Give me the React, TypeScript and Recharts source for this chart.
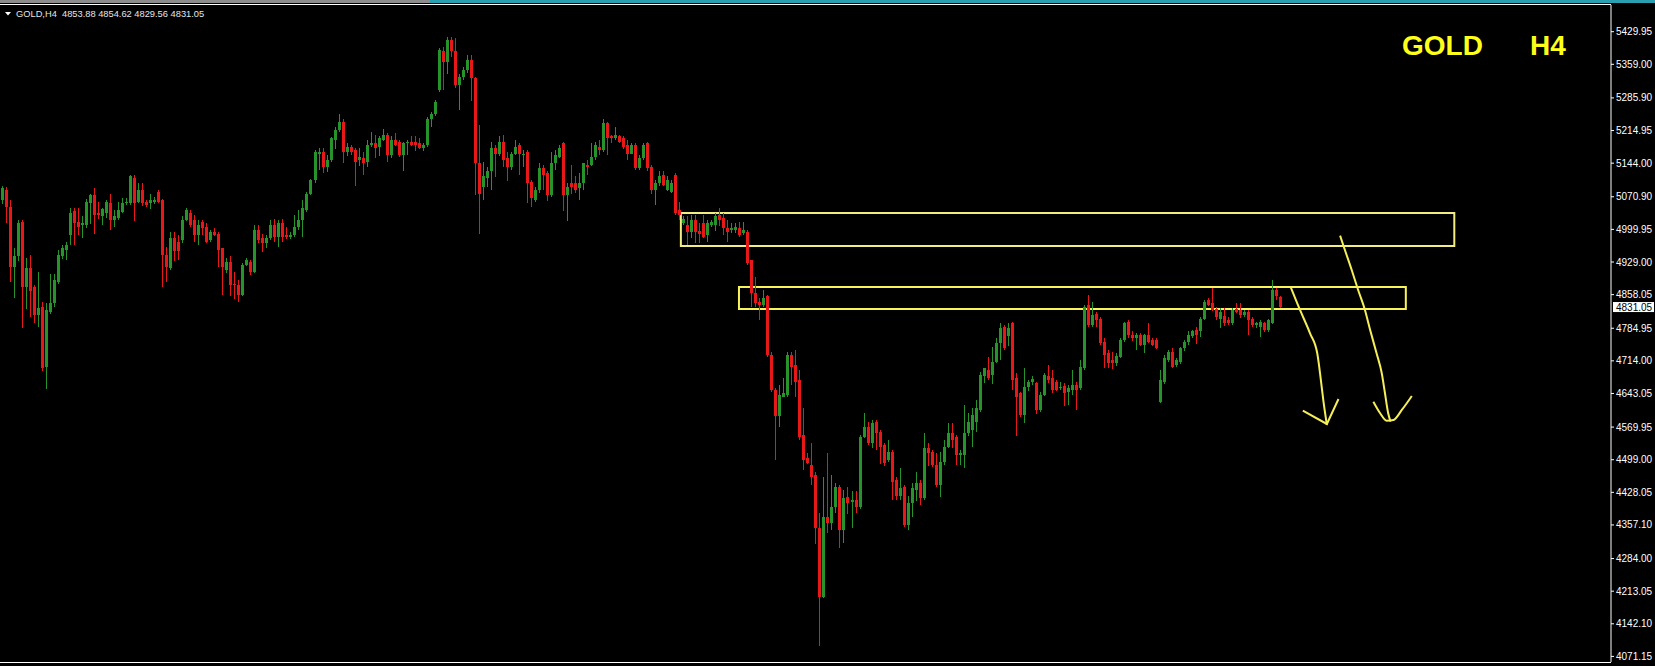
import { ComposedChart, Bar, Line, XAxis, YAxis, ReferenceArea, ReferenceLine } from 'recharts'

type Ohlc = [number, number, number, number]

// GOLD H4 candles: open, high, low, close
const BARS_A: Ohlc[] = [
  [5064, 5095, 5055, 5089], [5086, 5092, 5013, 5049], [5049, 5064, 4886, 4919], [4919, 4959, 4850, 4941],
  [4941, 5020, 4930, 5013], [5017, 5020, 4785, 4875], [4875, 4937, 4825, 4915], [4915, 4944, 4810, 4865],
  [4875, 4879, 4796, 4814], [4814, 4908, 4789, 4828], [4832, 4843, 4694, 4698], [4701, 4839, 4651, 4825],
  [4821, 4904, 4817, 4839], [4839, 4904, 4832, 4890], [4886, 4955, 4880, 4944], [4941, 4966, 4935, 4959],
  [4955, 4973, 4933, 4966], [4988, 5046, 4966, 5035], [5039, 5046, 4966, 5013], [5017, 5046, 4988, 5006],
  [5010, 5028, 4981, 5013], [5010, 5066, 5002, 5060], [5057, 5078, 5013, 5075], [5075, 5089, 4988, 5031],
  [5035, 5060, 5024, 5031], [5028, 5046, 5010, 5044], [5035, 5064, 5024, 5060], [5057, 5078, 4999, 5020],
  [5020, 5042, 5006, 5028], [5024, 5060, 5020, 5042], [5038, 5068, 5035, 5057], [5057, 5068, 5053, 5060],
  [5057, 5118, 5053, 5115], [5111, 5118, 5017, 5057], [5060, 5100, 5057, 5086], [5086, 5100, 5049, 5057],
  [5060, 5064, 5049, 5053], [5057, 5078, 5046, 5064], [5060, 5070, 5055, 5064], [5082, 5086, 5057, 5060],
  [5064, 5067, 4875, 4944], [4944, 4962, 4886, 4919], [4915, 4995, 4912, 4981], [4981, 4995, 4933, 4952],
  [4973, 4988, 4933, 4952], [4977, 5028, 4970, 5020], [5020, 5046, 5017, 5042], [5035, 5042, 5006, 5010],
  [5020, 5031, 4973, 4988], [4988, 5020, 4966, 5010], [5017, 5020, 4988, 5002], [5006, 5013, 4970, 4973],
  [4977, 4999, 4973, 4995], [4995, 5002, 4984, 4988], [4991, 4995, 4919, 4955], [4959, 4960, 4857, 4919],
  [4912, 4937, 4904, 4930], [4930, 4941, 4854, 4879], [4882, 4908, 4850, 4879], [4879, 4890, 4843, 4857],
  [4857, 4926, 4854, 4923], [4922, 4937, 4919, 4933], [4930, 4933, 4901, 4908], [4908, 5010, 4906, 4999],
  [4999, 5010, 4970, 4977], [4981, 4991, 4952, 4970], [4970, 4988, 4959, 4981], [4981, 5020, 4977, 5010],
  [5010, 5022, 4973, 4984], [4984, 5020, 4962, 5013], [5013, 5022, 4973, 4984], [4988, 5006, 4980, 4984],
  [4984, 4995, 4980, 4988], [4988, 5031, 4984, 5006], [5006, 5042, 4999, 5020], [5020, 5064, 4984, 5046],
  [5042, 5082, 5038, 5078], [5078, 5110, 5075, 5107], [5107, 5172, 5100, 5169], [5165, 5176, 5129, 5169],
]

const BARS_B: Ohlc[] = [
  [5169, 5176, 5122, 5136], [5136, 5162, 5125, 5151], [5151, 5201, 5147, 5198], [5194, 5223, 5176, 5216],
  [5216, 5252, 5212, 5234], [5234, 5239, 5144, 5169], [5169, 5187, 5158, 5180], [5180, 5184, 5162, 5169],
  [5173, 5176, 5093, 5147], [5151, 5176, 5136, 5158], [5155, 5169, 5118, 5144], [5147, 5194, 5136, 5184],
  [5184, 5212, 5180, 5187], [5187, 5205, 5155, 5176], [5180, 5202, 5158, 5198], [5194, 5218, 5191, 5205],
  [5205, 5209, 5147, 5162], [5162, 5202, 5154, 5194], [5194, 5209, 5180, 5184], [5191, 5194, 5158, 5162],
  [5162, 5191, 5129, 5187], [5187, 5194, 5162, 5191], [5191, 5202, 5180, 5184], [5191, 5202, 5169, 5184],
  [5187, 5198, 5173, 5176], [5176, 5187, 5169, 5184], [5184, 5245, 5180, 5241], [5241, 5256, 5223, 5252],
  [5252, 5282, 5248, 5278], [5303, 5394, 5299, 5390], [5387, 5397, 5303, 5365], [5365, 5419, 5339, 5412],
  [5412, 5419, 5376, 5387], [5387, 5416, 5307, 5314], [5314, 5339, 5260, 5332], [5332, 5354, 5325, 5347],
  [5347, 5379, 5339, 5368], [5368, 5379, 5278, 5329], [5329, 5332, 5075, 5144], [5144, 5227, 4991, 5078],
  [5093, 5147, 5064, 5115], [5111, 5136, 5093, 5126], [5126, 5191, 5086, 5176], [5176, 5184, 5115, 5165],
  [5165, 5202, 5158, 5191], [5191, 5205, 5136, 5151], [5155, 5169, 5107, 5136], [5136, 5169, 5129, 5165],
  [5165, 5194, 5162, 5180], [5184, 5187, 5118, 5165], [5162, 5173, 5136, 5165], [5169, 5173, 5057, 5100],
  [5104, 5107, 5049, 5068], [5064, 5093, 5060, 5086], [5086, 5144, 5078, 5133], [5133, 5140, 5086, 5118],
  [5122, 5126, 5060, 5075], [5075, 5169, 5071, 5144], [5144, 5173, 5129, 5162], [5158, 5184, 5155, 5176],
  [5187, 5191, 5042, 5075], [5075, 5100, 5017, 5093], [5100, 5140, 5078, 5093], [5100, 5115, 5078, 5086],
  [5089, 5122, 5064, 5100], [5100, 5145, 5086, 5144], [5140, 5151, 5118, 5136], [5140, 5187, 5136, 5158],
  [5158, 5191, 5151, 5184], [5180, 5194, 5162, 5173], [5173, 5241, 5169, 5231], [5231, 5234, 5162, 5198],
  [5202, 5205, 5187, 5198], [5198, 5223, 5194, 5205], [5202, 5205, 5187, 5191], [5198, 5202, 5173, 5180],
  [5184, 5194, 5151, 5165], [5165, 5187, 5162, 5184], [5184, 5187, 5129, 5133], [5133, 5162, 5129, 5155],
]

const BARS_C: Ohlc[] = [
  [5155, 5187, 5151, 5184], [5187, 5191, 5129, 5133], [5136, 5140, 5078, 5086], [5086, 5107, 5053, 5100],
  [5100, 5126, 5093, 5115], [5118, 5126, 5093, 5097], [5086, 5115, 5082, 5107], [5082, 5107, 5078, 5100],
  [5118, 5122, 5031, 5035], [5042, 5060, 5020, 5031], [5013, 5028, 5009, 5022], [5010, 5028, 4966, 4995],
  [4995, 5031, 4980, 5020], [5020, 5031, 4970, 4995], [4997, 5013, 4970, 4991], [5013, 5031, 4980, 4984],
  [4988, 5020, 4973, 5013], [5010, 5020, 5005, 5017], [5010, 5035, 4995, 5029], [5031, 5046, 5006, 5020],
  [5024, 5035, 4988, 5002], [5004, 5020, 4973, 4995], [4999, 5013, 4991, 5002], [4999, 5013, 4991, 5006],
  [5004, 5017, 4984, 4988], [4993, 5017, 4988, 4999], [4995, 4999, 4922, 4926], [4933, 4934, 4832, 4861],
  [4861, 4897, 4832, 4839], [4843, 4850, 4803, 4836], [4836, 4868, 4832, 4850], [4854, 4858, 4724, 4727],
  [4727, 4734, 4648, 4651], [4651, 4654, 4498, 4593], [4593, 4662, 4571, 4640], [4636, 4676, 4634, 4643],
  [4640, 4734, 4636, 4727], [4727, 4734, 4662, 4701], [4705, 4738, 4636, 4669], [4672, 4694, 4542, 4549],
  [4553, 4611, 4477, 4498], [4502, 4513, 4488, 4491], [4488, 4535, 4444, 4462], [4466, 4473, 4317, 4350],
  [4350, 4382, 4092, 4201], [4201, 4462, 4198, 4375], [4375, 4513, 4339, 4361], [4361, 4466, 4346, 4397],
  [4397, 4448, 4382, 4440], [4440, 4444, 4306, 4346], [4346, 4433, 4317, 4415], [4418, 4440, 4382, 4404],
  [4408, 4430, 4350, 4411], [4411, 4430, 4382, 4397], [4397, 4553, 4393, 4549], [4549, 4600, 4546, 4571],
  [4571, 4582, 4531, 4535], [4535, 4585, 4524, 4578], [4582, 4585, 4520, 4556], [4560, 4564, 4491, 4527],
  [4531, 4535, 4484, 4491], [4498, 4542, 4495, 4516], [4516, 4520, 4411, 4451], [4455, 4462, 4411, 4419],
  [4419, 4480, 4411, 4437], [4440, 4444, 4353, 4357], [4357, 4419, 4346, 4404], [4404, 4448, 4375, 4437],
  [4433, 4473, 4411, 4448], [4448, 4455, 4400, 4415], [4415, 4556, 4411, 4524], [4524, 4535, 4484, 4513],
  [4516, 4520, 4484, 4488], [4488, 4513, 4440, 4444], [4444, 4516, 4419, 4495], [4495, 4542, 4488, 4527],
  [4527, 4578, 4524, 4556], [4556, 4578, 4524, 4542], [4549, 4553, 4488, 4509], [4509, 4520, 4488, 4513],
]

const BARS_D: Ohlc[] = [
  [4509, 4618, 4480, 4556], [4556, 4600, 4549, 4582], [4564, 4611, 4527, 4596], [4582, 4629, 4560, 4611],
  [4607, 4690, 4603, 4683], [4680, 4698, 4665, 4698], [4694, 4723, 4672, 4676], [4683, 4745, 4665, 4712],
  [4712, 4763, 4708, 4752], [4752, 4796, 4716, 4785], [4788, 4792, 4738, 4741], [4767, 4796, 4745, 4785],
  [4796, 4799, 4651, 4672], [4676, 4687, 4549, 4636], [4643, 4647, 4593, 4596], [4596, 4698, 4578, 4658],
  [4658, 4672, 4647, 4669], [4669, 4680, 4661, 4674], [4665, 4669, 4600, 4607], [4607, 4647, 4603, 4640],
  [4640, 4687, 4636, 4683], [4681, 4705, 4665, 4672], [4676, 4694, 4643, 4651], [4669, 4672, 4647, 4651],
  [4654, 4669, 4651, 4658], [4659, 4665, 4614, 4645], [4647, 4661, 4618, 4654], [4651, 4694, 4640, 4661],
  [4661, 4668, 4607, 4651], [4654, 4716, 4651, 4701], [4698, 4836, 4694, 4832], [4836, 4857, 4788, 4792],
  [4792, 4843, 4788, 4814], [4817, 4821, 4788, 4803], [4806, 4810, 4749, 4752], [4756, 4763, 4698, 4727],
  [4730, 4738, 4698, 4709], [4716, 4734, 4698, 4709], [4709, 4730, 4701, 4725], [4723, 4763, 4720, 4759],
  [4759, 4799, 4756, 4796], [4799, 4803, 4763, 4770], [4770, 4778, 4756, 4763], [4763, 4774, 4738, 4770],
  [4770, 4774, 4745, 4749], [4749, 4772, 4730, 4770], [4770, 4796, 4752, 4756], [4759, 4763, 4745, 4749],
  [4759, 4763, 4738, 4741], [4625, 4694, 4622, 4672], [4669, 4727, 4665, 4720], [4716, 4738, 4712, 4734],
  [4734, 4741, 4698, 4701], [4705, 4720, 4701, 4716], [4712, 4745, 4709, 4741], [4741, 4759, 4734, 4756],
  [4756, 4778, 4748, 4770], [4767, 4781, 4763, 4778], [4781, 4788, 4752, 4770], [4778, 4810, 4767, 4806],
  [4806, 4846, 4802, 4843], [4846, 4850, 4832, 4835], [4839, 4872, 4821, 4825], [4826, 4832, 4803, 4810],
  [4806, 4828, 4785, 4821], [4812, 4828, 4788, 4796], [4803, 4810, 4792, 4796], [4796, 4828, 4792, 4825],
  [4826, 4839, 4817, 4821], [4825, 4839, 4806, 4814], [4814, 4825, 4810, 4821], [4821, 4825, 4770, 4803],
  [4806, 4810, 4788, 4792], [4792, 4799, 4785, 4797], [4788, 4803, 4767, 4799], [4796, 4799, 4778, 4781],
  [4781, 4806, 4778, 4803], [4796, 4890, 4795, 4868], [4868, 4872, 4846, 4854], [4853.88, 4854.62, 4829.56, 4831.05],
]

const BARS: Ohlc[] = [...BARS_A, ...BARS_B, ...BARS_C, ...BARS_D]
const CANDLES = BARS.map(([o, h, l, c], t) => ({ t, o, h, l, c }))

const PRICE_TICKS = [
  5429.95, 5359.0, 5285.9, 5214.95, 5144.0, 5070.9, 4999.95, 4929.0, 4858.05, 4784.95,
  4714.0, 4643.05, 4569.95, 4499.0, 4428.05, 4357.1, 4284.0, 4213.05, 4142.1, 4071.15,
]

// supply / resistance boxes, in bar index and price
const ZONE_UPPER = { t1: 169.4, t2: 362.4, lo: 4963.9, hi: 5035.6 }
const ZONE_LOWER = { t1: 183.9, t2: 350.3, lo: 4826.8, hi: 4874.7 }

// hand-drawn down arrows
const ARROW_NEAR = [
  { t: 321.6, p: 4874.0 }, { t: 323.9, p: 4824.7 }, { t: 326.4, p: 4774.0 }, { t: 328.2, p: 4730.5 },
  { t: 328.9, p: 4687.0 }, { t: 329.7, p: 4628.9 }, { t: 330.6, p: 4574.6 },
]
const ARROW_NEAR_HEAD = [{ t: 324.6, p: 4605.7 }, { t: 330.6, p: 4576.7 }, { t: 333.5, p: 4631.1 }]
const ARROW_FAR = [
  { t: 333.9, p: 4986.3 }, { t: 335.1, p: 4955.2 }, { t: 336.8, p: 4911.7 }, { t: 338.4, p: 4868.2 },
  { t: 340.1, p: 4824.7 }, { t: 341.4, p: 4781.2 }, { t: 343.0, p: 4730.5 }, { t: 344.3, p: 4687.0 },
  { t: 345.1, p: 4643.5 }, { t: 345.9, p: 4600.0 }, { t: 346.5, p: 4581.8 },
]
const ARROW_FAR_HEAD = [
  { t: 342.2, p: 4625.2 }, { t: 343.9, p: 4600.0 }, { t: 345.5, p: 4583.9 },
  { t: 347.2, p: 4585.4 }, { t: 349.3, p: 4607.2 }, { t: 351.8, p: 4637.6 },
]

const W = 1655
const H = 666
const PLOT_RIGHT = 1611
const GREEN = '#26942a'
const RED = '#e81818'
const YELLOW = '#f4ee58'
const AXIS_FONT = "'Liberation Sans Narrow', 'Liberation Sans', Arial, sans-serif"
const TEXT_FONT = "'Liberation Sans', Arial, sans-serif"

function Candle(props: any) {
  const { x, y, width, height, payload } = props
  if (!payload || height == null) return null
  const { o, h, l, c } = payload
  const top = Math.min(y, y + height)
  const span = Math.abs(height)
  const py = (v: number) => (h === l ? top : top + ((h - v) / (h - l)) * span)
  const cx = Math.round(x + width / 2)
  const color = c >= o ? GREEN : RED
  const bTop = Math.round(py(Math.max(o, c)))
  const bBot = Math.round(py(Math.min(o, c)))
  return (
    <g shapeRendering="crispEdges">
      <rect x={cx} y={Math.round(top)} width={1} height={Math.max(1, Math.round(span))} fill={color} />
      <rect x={cx - 1} y={bTop} width={3} height={Math.max(1, bBot - bTop)} fill={color} />
    </g>
  )
}

function priceTag(vb: any, text: string) {
  if (!vb) return null
  const x = vb.x + vb.width + 2
  return (
    <g>
      <rect x={x} y={vb.y - 5} width={41} height={10} fill="#fff" />
      <text x={x + 3} y={vb.y + 3.6} fontSize={10} fill="#000" fontFamily={AXIS_FONT}>{text}</text>
    </g>
  )
}

export default function App() {
  const [o, h, l, c] = BARS[BARS.length - 1]
  const header = `GOLD,H4  ${o.toFixed(2)} ${h.toFixed(2)} ${l.toFixed(2)} ${c.toFixed(2)}`
  return (
    <div style={{ position: 'absolute', left: 0, top: 0, width: W, height: H, background: '#000', overflow: 'hidden' }}>
      <ComposedChart width={W} height={H} data={CANDLES} margin={{ top: 5, right: 0, bottom: 4, left: 0 }}>
        <XAxis dataKey="t" type="number" domain={[-0.5, 401.5]} hide allowDataOverflow />
        <YAxis
          orientation="right"
          width={44}
          domain={[4059, 5488]}
          allowDataOverflow
          ticks={PRICE_TICKS}
          interval={0}
          tickFormatter={(v: number) => v.toFixed(2)}
          axisLine={{ stroke: '#fff' }}
          tickLine={{ stroke: '#fff' }}
          tickSize={3}
          tickMargin={2}
          tick={{ fill: '#fff', fontSize: 10, fontFamily: AXIS_FONT }}
        />
        <Bar dataKey={(d: any) => [d.l, d.h]} shape={Candle} barSize={3} isAnimationActive={false} />
        <ReferenceArea x1={ZONE_UPPER.t1} x2={ZONE_UPPER.t2} y1={ZONE_UPPER.lo} y2={ZONE_UPPER.hi}
          fill="none" fillOpacity={0} stroke="#f2ed80" strokeWidth={2} ifOverflow="visible" />
        <ReferenceArea x1={ZONE_LOWER.t1} x2={ZONE_LOWER.t2} y1={ZONE_LOWER.lo} y2={ZONE_LOWER.hi}
          fill="none" fillOpacity={0} stroke="#f8f358" strokeWidth={2} ifOverflow="visible" />
        <Line data={ARROW_NEAR} dataKey="p" type="monotone" stroke={YELLOW} strokeWidth={2} dot={false} isAnimationActive={false} />
        <Line data={ARROW_NEAR_HEAD} dataKey="p" type="linear" stroke={YELLOW} strokeWidth={2} dot={false} isAnimationActive={false} />
        <Line data={ARROW_FAR} dataKey="p" type="monotone" stroke={YELLOW} strokeWidth={2} dot={false} isAnimationActive={false} />
        <Line data={ARROW_FAR_HEAD} dataKey="p" type="monotone" stroke={YELLOW} strokeWidth={2} dot={false} isAnimationActive={false} />
        <ReferenceLine y={c} stroke="none" ifOverflow="visible" label={(p: any) => priceTag(p.viewBox, c.toFixed(2))} />
      </ComposedChart>

      <svg width={W} height={H} style={{ position: 'absolute', left: 0, top: 0, pointerEvents: 'none' }}>
        <rect x={0} y={0} width={W} height={3} fill="#8c8c8c" />
        <rect x={430} y={0} width={W - 430} height={3} fill="#2a9fb2" />
        <line x1={0} y1={4.5} x2={PLOT_RIGHT} y2={4.5} stroke="#fff" />
        <line x1={0} y1={662.5} x2={PLOT_RIGHT} y2={662.5} stroke="#fff" />
        <polygon points="5,12 11,12 8,15.5" fill="#fff" />
        <text x={16} y={16.5} fontSize={9.3} fill="#e6e6e6" fontFamily={TEXT_FONT} style={{ whiteSpace: 'pre' }}>{header}</text>
        <text x={1402} y={55} fontSize={28} fontWeight="bold" fill="#ffff1a" fontFamily={TEXT_FONT}>GOLD</text>
        <text x={1530} y={55} fontSize={28} fontWeight="bold" fill="#ffff1a" fontFamily={TEXT_FONT}>H4</text>
      </svg>
    </div>
  )
}
